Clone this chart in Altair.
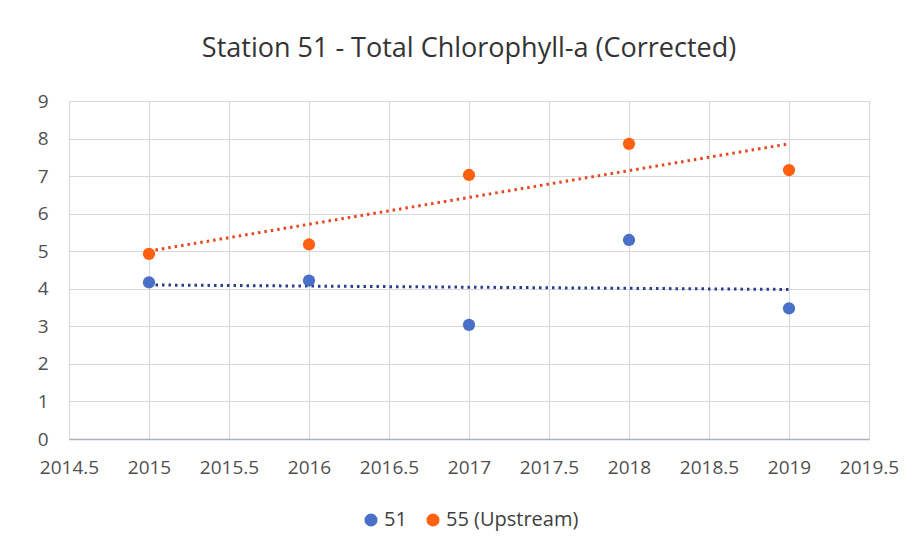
import altair as alt
import pandas as pd

years = [2015, 2016, 2017, 2018, 2019]
station_51 = [4.17, 4.22, 3.04, 5.30, 3.48]
station_55 = [4.93, 5.18, 7.03, 7.86, 7.16]
series_names = ["51", "55 (Upstream)"]
point_colors = ["#4A6FC8", "#FF6010"]
trend_colors = ["#2B3C8C", "#E8461E"]
x_ticks = [2014.5, 2015, 2015.5, 2016, 2016.5, 2017, 2017.5, 2018, 2018.5, 2019, 2019.5]
y_ticks = [0, 1, 2, 3, 4, 5, 6, 7, 8, 9]

rows = []
for y, v in zip(years, station_51):
    rows.append({"year": y, "value": v, "series": series_names[0]})
for y, v in zip(years, station_55):
    rows.append({"year": y, "value": v, "series": series_names[1]})
df = pd.DataFrame(rows)

label_style = dict(labelFont="Open Sans", labelFontSize=19, labelColor="#505050",
                   gridColor="#D9D9D9", gridWidth=1.2, title=None, ticks=False)

x_enc = alt.X("year:Q", scale=alt.Scale(domain=[2014.5, 2019.5], nice=False, zero=False),
              axis=alt.Axis(values=x_ticks, labelExpr="datum.value",
                            domainColor="#A9B0C0", domainWidth=1.5, labelPadding=19,
                            labelOverlap=False, labelFlush=False, **label_style))
y_enc = alt.Y("value:Q", scale=alt.Scale(domain=[0, 9], nice=False),
              axis=alt.Axis(values=y_ticks, domain=False, labelPadding=21,
                            labelOverlap=False, **label_style))

points = alt.Chart(df).mark_circle(size=150, opacity=1).encode(
    x=x_enc, y=y_enc,
    color=alt.Color("series:N", scale=alt.Scale(domain=series_names, range=point_colors),
                    legend=alt.Legend(title=None, orient="none", legendX=292, legendY=409,
                                      direction="horizontal", symbolType="circle", symbolSize=170,
                                      labelFontSize=20, labelColor="#404040", columnPadding=16,
                                      symbolOffset=0, labelOffset=3, labelFont="Open Sans")),
)

trend = alt.Chart(df).transform_regression(
    "year", "value", groupby=["series"], extent=[2015, 2019]
).mark_line(strokeDash=[2.5, 4], strokeWidth=3).encode(
    x=x_enc, y=y_enc,
    color=alt.Color("series:N", scale=alt.Scale(domain=series_names, range=trend_colors), legend=None),
)

chart = alt.layer(trend, points).resolve_scale(color="independent").properties(
    width=800, height=338,
    title=alt.TitleParams("Station 51 - Total Chlorophyll-a (Corrected)", fontSize=27,
                          font="Open Sans", fontWeight="normal", color="#333333", offset=29,
                          anchor="middle"),
    autosize=alt.AutoSizeParams(type="none"),
    padding={"left": 61, "top": 93, "right": 43, "bottom": 105},
).configure_view(stroke=None).configure(background="white")

chart.save("out.html", embed_options={"renderer": "svg", "actions": False})
